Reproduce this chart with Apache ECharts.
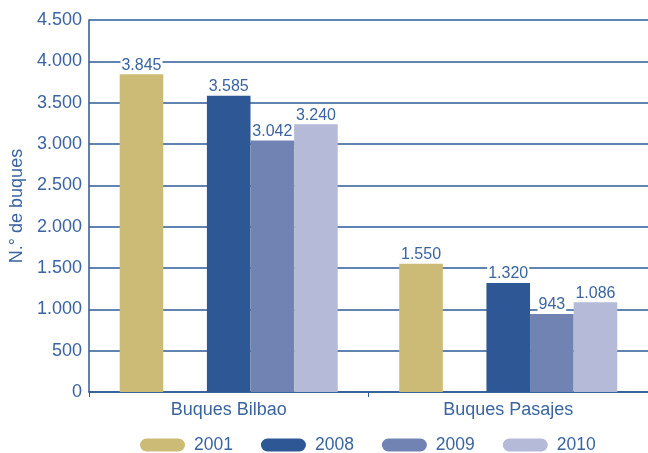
<!DOCTYPE html>
<html>
<head>
<meta charset="utf-8">
<script src="https://cdn.jsdelivr.net/npm/echarts@6/dist/echarts.min.js"></script>
<style>html,body{margin:0;padding:0;background:#fff}#c{width:648px;height:453px}</style>
</head>
<body>
<div id="c"></div>
<script>
const categories = ['Buques Bilbao', 'Buques Pasajes'];
const years = ['2001', '2008', '2009', '2010'];
const v2001 = [3845, 1550];
const v2008 = [3585, 1320];
const v2009 = [3042, 943];
const v2010 = [3240, 1086];
const yTicks = [0, 500, 1000, 1500, 2000, 2500, 3000, 3500, 4000, 4500];

const colors = ['#CCBB77', '#2D5895', '#7083B3', '#B5BAD8'];
const textColor = '#3B64A0';
const lineColor = '#2D5A96';
const fontFamily = '"Liberation Sans", Arial, Helvetica, sans-serif';

function fmt(n) {
  return String(n).replace(/\B(?=(\d{3})+(?!\d))/g, '.');
}

const label = {
  show: true, position: 'top', distance: 2,
  color: textColor, fontSize: 16, fontFamily: fontFamily,
  backgroundColor: '#fff', padding: [0, 1, -1, 1],
  formatter: p => fmt(p.value)
};

function bar(name, data, color) {
  return { name: name, type: 'bar', data: data, itemStyle: { color: color }, label: label, barGap: '0%', barCategoryGap: '22%' };
}

const chart = echarts.init(document.getElementById('c'), null, { renderer: 'canvas' });
chart.setOption({
  animation: false,
  textStyle: { fontFamily: fontFamily },
  grid: { left: 86, right: 0, top: 20, bottom: 61, containLabel: false },
  legend: {
    data: years, top: 436, left: 140, padding: 0, itemWidth: 45, itemHeight: 13, itemGap: 28,
    icon: 'path://M6.5,0 L38.5,0 A6.5,6.5 0 0 1 38.5,13 L6.5,13 A6.5,6.5 0 0 1 6.5,0 Z',
    textStyle: { color: textColor, fontSize: 17.5, fontFamily: fontFamily, padding: [0, 0, 0, 4] }
  },
  xAxis: {
    type: 'category', data: categories,
    axisLine: { lineStyle: { color: lineColor, width: 1.5 } },
    axisTick: { show: true, length: 5, lineStyle: { color: lineColor } },
    axisLabel: { color: textColor, fontSize: 18, margin: 9, fontFamily: fontFamily }
  },
  yAxis: {
    type: 'value', min: yTicks[0], max: yTicks[yTicks.length - 1], interval: 500,
    name: 'N.° de buques', nameLocation: 'middle', nameGap: 54,
    nameTextStyle: { color: textColor, fontSize: 18, fontFamily: fontFamily },
    axisLine: { show: true, lineStyle: { color: lineColor, width: 1.5 } },
    axisTick: { show: false },
    splitLine: { lineStyle: { color: lineColor, width: 1.5 } },
    axisLabel: { color: textColor, fontSize: 18, margin: 7, fontFamily: fontFamily, formatter: v => fmt(v) }
  },
  series: [
    bar('2001', v2001, colors[0]),
    { name: 'gap', type: 'bar', data: [null, null], barGap: '0%', barCategoryGap: '22%' },
    bar('2008', v2008, colors[1]),
    bar('2009', v2009, colors[2]),
    bar('2010', v2010, colors[3])
  ]
});
</script>
</body>
</html>
